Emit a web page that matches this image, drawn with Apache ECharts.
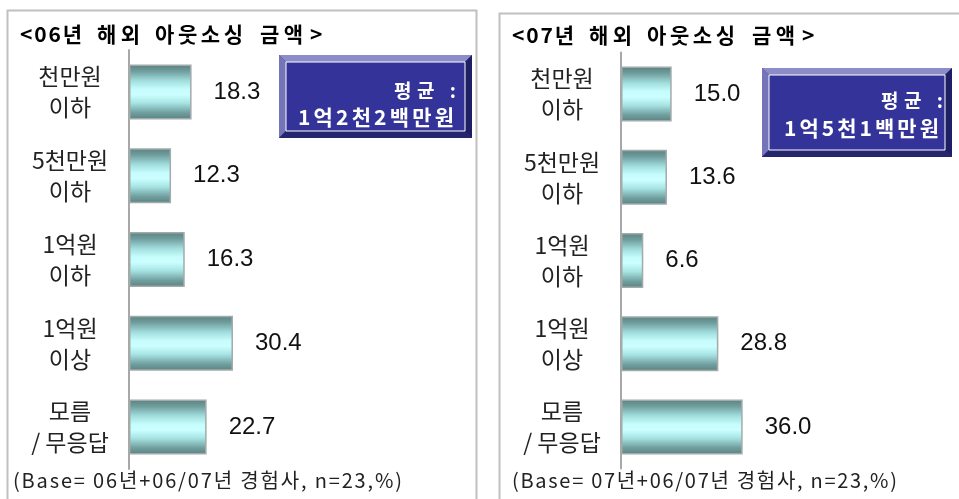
<!DOCTYPE html>
<html><head><meta charset="utf-8">
<script src="https://cdn.jsdelivr.net/npm/echarts@6/dist/echarts.min.js"></script>
<style>html,body{margin:0;padding:0;background:#fff}#c{width:959px;height:499px}</style>
</head><body><div id="c"></div>
<script>
const categories = ['천만원\n이하', '5천만원\n이하', '1억원\n이하', '1억원\n이상', '모름\n/ 무응답'];
const values06 = [18.3, 12.3, 16.3, 30.4, 22.7];
const values07 = [15.0, 13.6, 6.6, 28.8, 36.0];
const titleWords06 = ['<06년', '해외', '아웃소싱', '금액', '>'];
const titleWords07 = ['<07년', '해외', '아웃소싱', '금액', '>'];
const avg06 = ['평균 :', '1억2천2백만원'];
const avg07 = ['평균 :', '1억5천1백만원'];
const base06 = '(Base= 06년+06/07년 경험사, n=23,%)';
const base07 = '(Base= 07년+06/07년 경험사, n=23,%)';

const KRF = '"Noto Sans CJK KR"';
const KR = KRF + ', sans-serif';
const chart = echarts.init(document.getElementById('c'));

const ctx = document.createElement('canvas').getContext('2d');
// text laid out char by char so that it spans a given width (letter spacing)
function spaced(str, x, y, width, size, weight, fill, alignRight) {
  ctx.font = (weight === 'bold' ? 'bold ' : '') + size + 'px ' + KRF;
  const chars = Array.from(str);
  const ws = chars.map(c => ctx.measureText(c).width);
  const total = ws.reduce((a, b) => a + b, 0);
  const gap = chars.length > 1 ? (width - total) / (chars.length - 1) : 0;
  let cx = alignRight ? x - width : x;
  const out = [];
  chars.forEach((c, i) => {
    if (c !== ' ') out.push({type: 'text', x: cx, y: y,
      style: {text: c, fontFamily: KR, fontSize: size, fontWeight: weight, fill: fill, verticalAlign: 'middle'}});
    cx += ws[i] + gap;
  });
  return out;
}

const barFill = new echarts.graphic.LinearGradient(0, 0, 0, 1, [
  {offset: 0, color: '#5a8282'},
  {offset: 0.12, color: '#6f9c9c'},
  {offset: 0.3, color: '#a2dede'},
  {offset: 0.45, color: '#c6fcfc'},
  {offset: 0.55, color: '#ccffff'},
  {offset: 0.7, color: '#a8e4e4'},
  {offset: 0.88, color: '#709e9e'},
  {offset: 1, color: '#5a8282'}
]);

function gridAxes(idx) {
  return {
    x: {gridIndex: idx, type: 'value', min: 0, max: 100, show: false},
    y: {gridIndex: idx, type: 'category', data: categories, inverse: true,
        axisLine: {show: true, lineStyle: {color: '#a8a8a8', width: 2}},
        axisTick: {show: false}, splitLine: {show: false},
        axisLabel: {margin: 59, align: 'center', fontFamily: KR, fontSize: 23,
                    lineHeight: 31, color: '#222'}}
  };
}
const a0 = gridAxes(0), a1 = gridAxes(1);

function series(idx, data) {
  return {
    type: 'bar', xAxisIndex: idx, yAxisIndex: idx, data: data, barWidth: 55,
    itemStyle: {color: barFill, borderColor: '#a4aaaa', borderWidth: 1.5},
    label: {show: true, position: 'right', distance: 22, fontSize: 24,
            fontFamily: '"Liberation Sans", Arial, sans-serif', color: '#111',
            formatter: p => p.value.toFixed(1)},
    silent: true, animation: false
  };
}

const wordPos = [[0, 62], [77, 43], [135, 88], [240, 43], [290, 12]];
function titleTexts(words, x0, y) {
  let out = [];
  words.forEach((w, i) => {
    out = out.concat(spaced(w, x0 + wordPos[i][0], y, wordPos[i][1], 21, 'bold', '#000', false));
  });
  return out;
}

function box(x1, y1, x2, y2, lines, rx1, rx2, ly1, ly2, w2) {
  const b = 7;
  return [
    {type: 'rect', shape: {x: x1, y: y1, width: x2 - x1, height: y2 - y1}, style: {fill: '#333399'}},
    {type: 'polygon', shape: {points: [[x1, y1], [x2, y1], [x2 - b, y1 + b], [x1 + b, y1 + b]]}, style: {fill: '#8c8cc8'}},
    {type: 'polygon', shape: {points: [[x1, y1], [x1 + b, y1 + b], [x1 + b, y2 - b], [x1, y2]]}, style: {fill: '#7474b8'}},
    {type: 'polygon', shape: {points: [[x2, y1], [x2, y2], [x2 - b, y2 - b], [x2 - b, y1 + b]]}, style: {fill: '#1f1f66'}},
    {type: 'polygon', shape: {points: [[x1, y2], [x2, y2], [x2 - b, y2 - b], [x1 + b, y2 - b]]}, style: {fill: '#26266e'}},
    {type: 'rect', shape: {x: x1 + b, y: y1 + b, width: x2 - x1 - 2 * b, height: y2 - y1 - 2 * b},
     style: {fill: '#333399', stroke: '#ffffff', lineWidth: 1}}
  ].concat(
    spaced(lines[0], rx1, ly1, 62, 19, 'bold', '#fff', true),
    spaced(lines[1], rx2, ly2, w2, 21, 'bold', '#fff', true)
  );
}

const graphics = [].concat(
  [
    {type: 'rect', shape: {x: 7.5, y: 10.5, width: 469, height: 520}, style: {fill: 'none', stroke: '#c0c0c0', lineWidth: 2}, z: -1},
    {type: 'rect', shape: {x: 499.5, y: 13.5, width: 480, height: 520}, style: {fill: 'none', stroke: '#c0c0c0', lineWidth: 2}, z: -1}
  ],
  titleTexts(titleWords06, 20, 34),
  titleTexts(titleWords07, 512, 35),
  box(279, 55, 472, 138, avg06, 456, 454, 91, 117, 156),
  box(762, 68, 952, 157, avg07, 943, 939, 101, 128, 155),
  spaced(base06, 13, 480, 389, 20, 'normal', '#222', false),
  spaced(base07, 512, 480, 385, 20, 'normal', '#222', false)
);

chart.setOption({
  animation: false,
  backgroundColor: '#fff',
  grid: [
    {left: 129, top: 50, width: 342, height: 419},
    {left: 621, top: 52.5, width: 338, height: 416}
  ],
  xAxis: [a0.x, a1.x],
  yAxis: [a0.y, a1.y],
  series: [series(0, values06), series(1, values07)],
  graphic: graphics
});
</script>
</body></html>
